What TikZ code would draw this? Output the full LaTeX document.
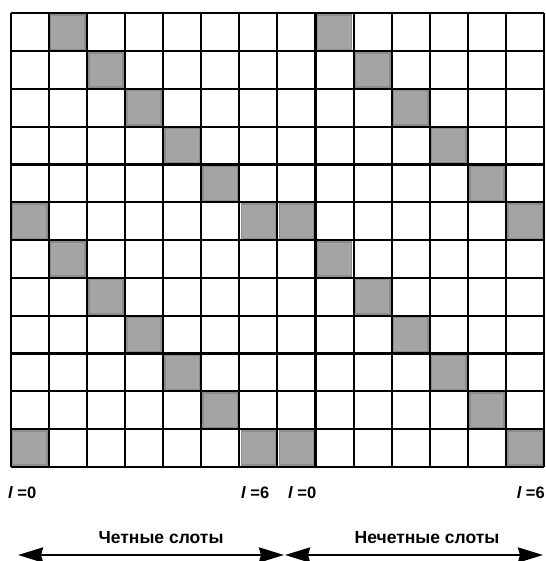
\documentclass[tikz,border=0pt]{standalone}
\usepackage{fontspec}
\setmainfont{Liberation Sans}
\usetikzlibrary{arrows.meta}
\definecolor{slotg}{HTML}{A4A4A4}
\definecolor{slotb}{HTML}{8C8C8C}
\tikzset{
  gridln/.style={line width=2.1pt, black},
  busy/.style={fill=slotg, draw=slotb, line width=1.4pt},
  span/.style={{Stealth[length=25pt,width=15pt,inset=2pt]}-{Stealth[length=25pt,width=15pt,inset=2pt]}, line width=2.6pt},
  llab/.style={font=\fontsize{16.5}{19}\selectfont\bfseries, inner sep=0pt},
  hlab/.style={font=\fontsize{17.5}{20}\selectfont\bfseries, inner sep=0pt},
}

\begin{document}
\begin{tikzpicture}[x=1pt,y=-1pt]
\useasboundingbox (0,0) rectangle (545,561);

% ===================== slot grid: 14 x 12 ==================================
\begin{scope}[shift={(10.7,13.3)}, x=38.1pt, y=-37.8pt]
  % occupied slots, same pattern in both halves
  \foreach \c/\r in {1/0,2/1,3/2,4/3,5/4,0/5,6/5,1/6,2/7,3/8,4/9,5/10,0/11,6/11}
    \foreach \h in {0,7}
      \draw[busy] ({\c+\h+0.05},{\r+0.05}) rectangle ({\c+\h+0.95},{\r+0.95});
  \foreach \c in {0,...,14}
    \draw[gridln] (\c,0) -- (\c,12);
  \foreach \r in {0,...,12}
    \draw[gridln] (0,\r) -- (14,\r);
\end{scope}

% ===================== index labels ========================================
\node[llab, anchor=west] (l0a) at (8,493)   {{\itshape l} =0};
\node[llab, anchor=west] (l6a) at (241,493) {{\itshape l} =6};
\node[llab, anchor=west] (l0b) at (288,493) {{\itshape l} =0};
\node[llab, anchor=east] (l6b) at (545,493) {{\itshape l} =6};

% ===================== even / odd spans ====================================
\node[hlab] (ev) at (161,538) {Четные слоты};
\node[hlab] (od) at (427,538) {Нечетные слоты};
\coordinate (evL) at (18,555);
\coordinate (evR) at (284,555);
\coordinate (odL) at (285,555);
\coordinate (odR) at (543,555);
\draw[span] (evL) -- (evR);
\draw[span] (odL) -- (odR);

\end{tikzpicture}
\end{document}
